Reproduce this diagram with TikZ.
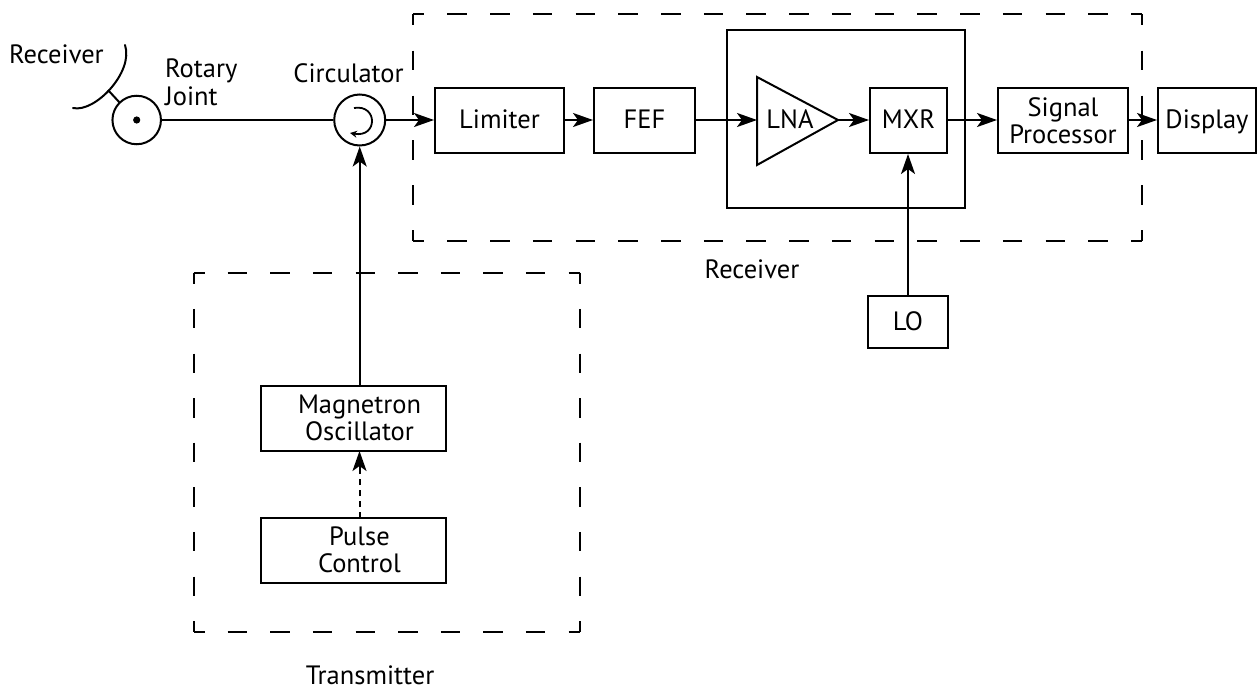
\documentclass[tikz,border=0pt]{standalone}
\usepackage{fontspec}
\setmainfont{PT Sans}
\usetikzlibrary{arrows.meta}
\tikzset{
  x=1pt,y=-1pt,
  every node/.style={font=\fontsize{26.5}{28}\selectfont,align=center,inner sep=0pt},
  box/.style={draw=black,line width=2pt,rectangle},
  conn/.style={line width=2pt,-{Stealth[length=20pt,width=14pt,inset=5pt]}},
  wire/.style={line width=2pt},
  dashconn/.style={line width=2pt,dash pattern=on 6pt off 5pt},
  joint/.style={draw=black,line width=2pt,circle},
}
\newcommand{\cs}{\rule[-5pt]{0pt}{26pt}}
\newcommand{\bx}[6]{\node[box,minimum width=#3-#2,minimum height=#5-#4] (#1) at ({(#2+#3)/2},{(#4+#5)/2}) {#6};}
% one side of a dashed outline: corner arm 12, n dashes of 21.5, even gaps
\newcommand{\dside}[5]{%
  \pgfmathsetmacro{\glen}{(veclen(#3-#1,#4-#2)-24-#5*21.5)/(#5+1)+2}%
  \draw[line width=2pt,line cap=square,dash pattern=on 19.5pt off \glen pt,dash phase=8.4pt] (#1,#2) -- (#3,#4);}
\begin{document}
\begin{tikzpicture}
\useasboundingbox (0,0) rectangle (1257,690);
% group outlines
\dside{413}{14.3}{1142}{14.3}{16}
\dside{413}{241}{1142}{241}{16}
\dside{413}{14.3}{413}{241}{4}
\dside{1142}{14.3}{1142}{241}{4}
\dside{193.5}{272.7}{579.5}{272.7}{8}
\dside{193.5}{632}{579.5}{632}{8}
\dside{193.5}{272.7}{193.5}{632}{7}
\dside{579.5}{272.7}{579.5}{632}{7}
\draw[box] (727,30) rectangle (965,208);
% blocks
\bx{lim}{435}{564}{88.3}{153}{\cs Limiter}
\bx{fef}{594}{695}{88.3}{153}{\cs FEF}
\bx{mxr}{870}{947}{88.3}{153}{\cs MXR}
\bx{sig}{998}{1128}{88.3}{153}{Signal\\[-1pt]Processor}
\bx{dis}{1158}{1256}{88.3}{153}{\cs Display}
\bx{lo}{868}{948}{296}{348}{\cs LO}
\bx{mag}{261}{446}{386}{451}{}
\bx{pul}{261}{446}{518}{583}{}
\node (magt) at (359.5,418) {Magnetron\\[-1pt]Oscillator};
\node (pult) at (359.5,550) {Pulse\\[-1pt]Control};
% amplifier
\node (lna) at (790,120.5) {\cs LNA};
\coordinate (lnaw) at (757,120);
\coordinate (lnae) at (838,120);
\draw[wire,line join=miter] (757,77) -- (lnae) -- (757,165) -- cycle;
% rotary joint, dish
\node[joint,minimum size=48.5pt] (rot) at (136.7,120) {};
\fill (136.7,120) circle (3.6pt);
\draw[wire,line cap=round] (73,108) .. controls (95,113) and (134,72) .. (125,45);
\draw[wire] (108,90) -- (120,103);
% circulator
\node[joint,minimum size=51pt] (cir) at (359.7,120) {};
\draw[line width=1.8pt,-{Stealth[length=7pt,width=7pt]}] (354,108) .. controls (378,104) and (378,138) .. (350,133);
% connectors
\draw[wire] (rot) -- (cir);
\draw[conn] (cir) -- (cir -| lim.west);
\draw[conn] (lim.east |- cir) -- (fef.west |- cir);
\draw[conn] (fef.east |- cir) -- (lnaw);
\draw[conn] (lnae) -- (mxr.west |- lnae);
\draw[conn] (mxr.east |- cir) -- (sig.west |- cir);
\draw[conn] (sig.east |- cir) -- (dis.west |- cir);
\draw[conn] (lo.north) -- (mxr.south -| lo.north);
\draw[conn] (cir.south |- mag.north) -- (cir.south);
\coordinate (pn) at (359.5,518);
\coordinate (mb) at (359.5,451);
\coordinate (pm) at (359.5,472);
\draw[dashconn] (pn) -- (pm);
\draw[conn] (pm) -- (mb);
% labels
\node[anchor=west] (lrecv) at (9,56) {\cs Receiver};
\node[anchor=west,align=left] (lrot) at (165,82) {Rotary\\[0pt]Joint};
\node (lcir) at (348.5,75) {\cs Circulator};
\node (lrx) at (752,270) {\cs Receiver};
\node (ltx) at (370,676) {\cs Transmitter};
\end{tikzpicture}
\end{document}
